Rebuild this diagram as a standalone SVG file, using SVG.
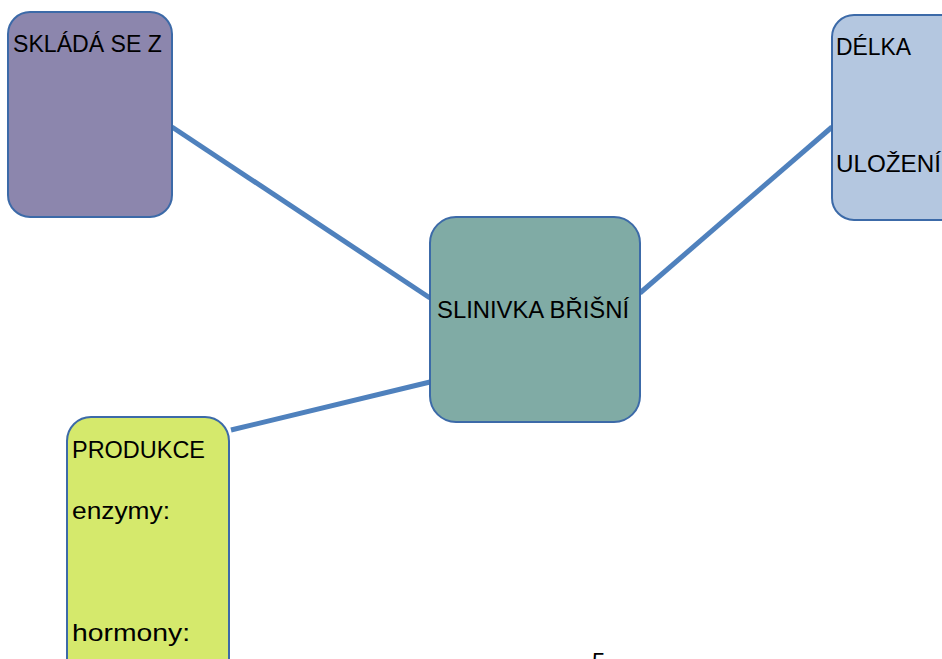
<svg xmlns="http://www.w3.org/2000/svg" width="942" height="659" viewBox="0 0 942 659">
<style>
.box{stroke:#3c6aa8;stroke-width:2}
.lbl{font-family:"Liberation Sans",Arial,sans-serif;font-size:24px;fill:#000}
.con{stroke:#4f81bd;stroke-width:5;fill:none}
</style>
<rect width="942" height="659" fill="#fff"/>
<g id="connectors">
<line class="con" x1="172" y1="127" x2="430" y2="298"/>
<line class="con" x1="640" y1="293" x2="832" y2="127"/>
<line class="con" x1="231" y1="430" x2="430" y2="382"/>
</g>
<g id="node-sklada">
<rect class="box" x="8" y="12" width="164" height="205" rx="22" ry="22" fill="#8c86ad"/>
<text class="lbl" x="13" y="52" textLength="149" lengthAdjust="spacingAndGlyphs">SKLÁDÁ SE Z</text>
</g>
<g id="node-delka">
<rect class="box" x="832" y="15" width="140" height="205" rx="22" ry="22" fill="#b4c7e0"/>
<text class="lbl" x="836" y="55" textLength="75" lengthAdjust="spacingAndGlyphs">DÉLKA</text>
<text class="lbl" x="836" y="172" textLength="105" lengthAdjust="spacingAndGlyphs">ULOŽENÍ</text>
</g>
<g id="node-slinivka">
<rect class="box" x="430" y="217" width="210" height="205" rx="26" ry="26" fill="#80aba5"/>
<text class="lbl" x="437" y="318" textLength="192" lengthAdjust="spacingAndGlyphs">SLINIVKA BŘIŠNÍ</text>
</g>
<g id="node-produkce">
<rect class="box" x="67" y="417" width="162" height="270" rx="24" ry="24" fill="#d5e96c"/>
<text class="lbl" x="72" y="458" textLength="133" lengthAdjust="spacingAndGlyphs">PRODUKCE</text>
<text class="lbl" x="72" y="519" textLength="98" lengthAdjust="spacingAndGlyphs">enzymy:</text>
<text class="lbl" x="72" y="641" textLength="118" lengthAdjust="spacingAndGlyphs">hormony:</text>
</g>
<text class="lbl" x="592" y="670">5</text>
</svg>
